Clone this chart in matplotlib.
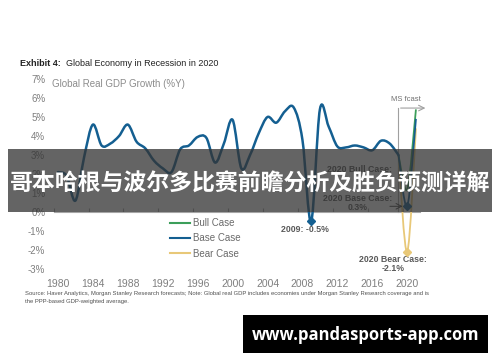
import matplotlib
matplotlib.use("Agg")
import matplotlib.pyplot as plt
import numpy as np
from matplotlib.path import Path
from matplotlib.patches import PathPatch, Rectangle
from matplotlib.lines import Line2D

plt.rcParams['font.family'] = ['Liberation Sans', 'DejaVu Sans']

# historical global real GDP growth (%Y), base line
years = list(range(1980, 2020))
growth = [2.1, 1.9, 0.6, 2.9, 4.6, 3.5, 3.6, 4.0, 4.6, 3.7,
          3.35, 2.7, 2.3, 2.1, 3.3, 3.5, 3.95, 3.9, 2.6, 3.6,
          4.85, 2.3, 3.0, 4.15, 5.0, 4.7, 5.3, 5.5, 3.8, -0.5,
          5.4, 4.5, 3.45, 3.4, 3.5, 3.4, 3.25, 3.75, 3.6, 3.0]

# forecast scenarios 2019-2021
fc_years = [2019, 2020, 2021]
bull_case = [3.0, 1.2, 5.4]
base_case = [3.0, 0.3, 4.9]
bear_case = [3.0, -2.1, 4.4]

xtick_years = list(range(1980, 2021, 4))
ytick_vals = list(range(-3, 8))

BLUE = '#145f91'
GREEN = '#3c9e5a'
YELLOW = '#e8c878'
GREY_TXT = '#7f7f7f'
ANNO = '#595959'


def smooth_path(xs, ys):
    # Catmull-Rom curve through the points, drawn as cubic beziers
    pts = np.column_stack([xs, ys]).astype(float)
    p = np.vstack([pts[0], pts, pts[-1]])
    verts = [pts[0]]
    codes = [Path.MOVETO]
    for i in range(1, len(p) - 2):
        c1 = p[i] + (p[i + 1] - p[i - 1]) / 6.0
        c2 = p[i + 1] - (p[i + 2] - p[i]) / 6.0
        verts += [c1, c2, p[i + 1]]
        codes += [Path.CURVE4] * 3
    return Path(verts, codes)


fig = plt.figure(figsize=(5, 3.62), dpi=100)
ax = fig.add_axes([0.1072, 0.2569, 0.7334, 0.5249])

ax.add_patch(PathPatch(smooth_path(fc_years, bear_case), fill=False, edgecolor=YELLOW, lw=1.3, zorder=2))
ax.add_patch(PathPatch(smooth_path(fc_years, bull_case), fill=False, edgecolor=GREEN, lw=1.3, zorder=3))
ax.add_patch(PathPatch(smooth_path(fc_years, base_case), fill=False, edgecolor=BLUE, lw=1.3, zorder=4))
ax.add_patch(PathPatch(smooth_path(years, growth), fill=False, edgecolor=BLUE, lw=1.8,
                       capstyle='round', joinstyle='round', zorder=5))

# markers on the lows
i09 = years.index(2009)
ax.plot([years[i09]], [growth[i09]], marker='D', ms=4, color=BLUE, zorder=6)
ax.plot([fc_years[1]], [base_case[1]], marker='D', ms=4, color=BLUE, zorder=6)
ax.plot([fc_years[1]], [bear_case[1]], marker='D', ms=4, color=YELLOW, zorder=6)

ax.set_xlim(1979.5, 2021.5)
ax.set_ylim(-3, 7)
for s in ax.spines.values():
    s.set_visible(False)
ax.set_yticks(ytick_vals, [f"{v}%" for v in ytick_vals])
ax.set_xticks(xtick_years, [str(y) for y in xtick_years])
ax.tick_params(axis='y', length=0, pad=6, labelsize=7, labelcolor=GREY_TXT)
ax.tick_params(axis='x', length=0, pad=7, labelsize=7.5, labelcolor=GREY_TXT)

# zero line with tick marks between categories
zero = ax.secondary_xaxis(0.3)
zero.set_xticks(np.arange(1979.5, 2021, 4), [])
zero.tick_params(direction='in', length=3, color='#a6a6a6', width=0.8)
for s in zero.spines.values():
    s.set_color('#a6a6a6')
    s.set_linewidth(0.8)

# forecast bracket
ax.plot([2019.0, 2019.0], [0, 5.47], color='#a0a0a0', lw=0.8, clip_on=False, zorder=1)
ax.annotate('', xy=(2022.4, 5.47), xytext=(2018.93, 5.47),
            arrowprops=dict(arrowstyle='->', color='#a0a0a0', lw=0.8), annotation_clip=False)
ax.text(2019.9, 5.9, 'MS fcast', ha='center', va='center', fontsize=5.5, color='#707070')

# annotations
ax.text(2008.3, -0.9, '2009: -0.5%', ha='center', va='center', fontsize=6.3,
        fontweight='bold', color=ANNO)
ax.text(2018.4, -2.74, '2020 Bear Case:\n-2.1%', ha='center', va='center', fontsize=6.3,
        fontweight='bold', color=ANNO, linespacing=1.1)
ax.text(2014.3, 0.47, '2020 Base Case:\n0.3%', ha='center', va='center', fontsize=6.3,
        fontweight='bold', color=ANNO, linespacing=1.1)
ax.text(2014.5, 2.26, '2020 Bull Case:', ha='center', va='center', fontsize=6.3,
        fontweight='bold', color=ANNO)
ax.annotate('', xy=(2019.8, 0.3), xytext=(2017.7, 0.3),
            arrowprops=dict(arrowstyle='->', color='#404040', lw=0.7))

# legend
handles = [Line2D([], [], color=GREEN, lw=1.5),
           Line2D([], [], color=BLUE, lw=1.5),
           Line2D([], [], color=YELLOW, lw=1.5)]
leg = ax.legend(handles, ['Bull Case', 'Base Case', 'Bear Case'], loc='upper left',
                bbox_to_anchor=(170 / 500, 1 - 218 / 362), bbox_transform=fig.transFigure,
                frameon=False, fontsize=7, handlelength=2.1, handletextpad=0.25,
                labelspacing=0.55, borderpad=0, borderaxespad=0)
for t in leg.get_texts():
    t.set_color('#6a6a6a')

# titles
fig.text(20 / 500, 1 - 64 / 362, 'Exhibit 4:', fontsize=6.5, fontweight='bold',
         color='#222222', va='center')
fig.text(66 / 500, 1 - 64 / 362, 'Global Economy in Recession in 2020', fontsize=6.5,
         color='#222222', va='center')
fig.text(52 / 500, 1 - 84 / 362, 'Global Real GDP Growth (%Y)', fontsize=7,
         color='#8c8c8c', va='center')

fig.text(25 / 500, 1 - 294 / 362,
         'Source: Haver Analytics, Morgan Stanley Research forecasts; Note: Global real GDP '
         'includes economies under Morgan Stanley Research coverage and is',
         fontsize=4.2, color='#505050', va='center')
fig.text(25 / 500, 1 - 301 / 362, 'the PPP-based GDP-weighted average.',
         fontsize=4.2, color='#505050', va='center')

# overlay banner
fig.add_artist(Rectangle((8 / 500, 1 - 212 / 362), 484 / 500, 63 / 362,
                         transform=fig.transFigure, facecolor='#333333', alpha=0.76,
                         edgecolor='none', zorder=10))
fig.text(250 / 500, 1 - 184 / 362, '哥本哈根与波尔多比赛前瞻分析及胜负预测详解',
         family=['Noto Sans CJK SC', 'DejaVu Sans'], fontsize=16.5, fontweight='bold',
         color='white', ha='center', va='center', zorder=11)

# watermark
fig.add_artist(Rectangle((243 / 500, 1 - 353 / 362), 245 / 500, 38 / 362,
                         transform=fig.transFigure, facecolor='black', edgecolor='none',
                         zorder=10))
fig.text(365.5 / 500, 1 - 335 / 362, 'www.pandasports-app.com', family=['Open Sans', 'DejaVu Sans'],
         fontsize=12, fontweight='bold', color='white', ha='center', va='center', zorder=11)

fig.savefig('out.png', dpi=100)
